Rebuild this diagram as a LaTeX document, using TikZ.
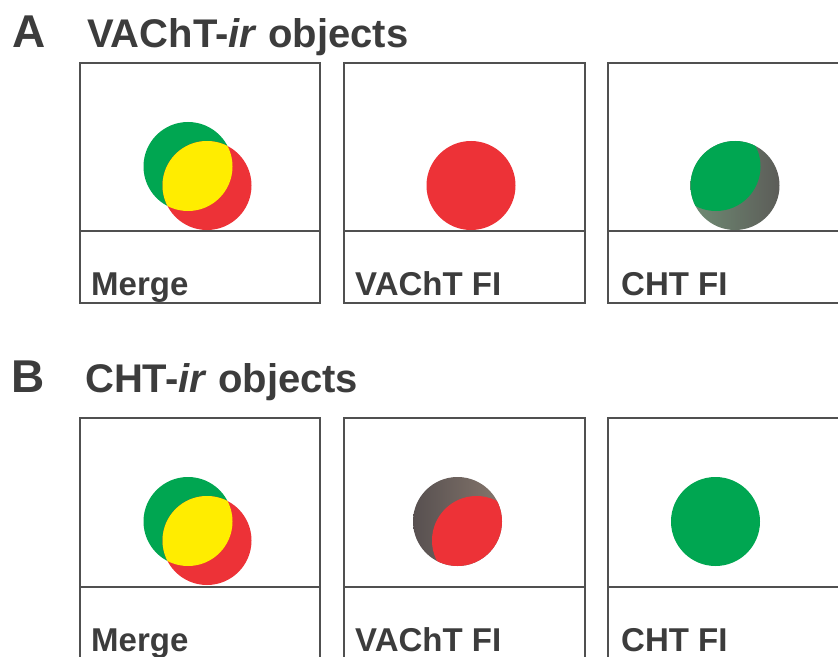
\documentclass[tikz,border=0pt]{standalone}
\usepackage{fontspec}
\setmainfont{Liberation Sans}
\definecolor{txt}{HTML}{3C3C3C}
\definecolor{frame}{HTML}{505050}
\definecolor{cgreen}{HTML}{00A651}
\definecolor{cred}{HTML}{ED3237}
\definecolor{cyellow}{HTML}{FFED00}
\definecolor{greyA}{HTML}{6F8C74}
\definecolor{greyB}{HTML}{5C5C58}
\definecolor{greyC}{HTML}{575050}
\definecolor{greyD}{HTML}{85766C}
\tikzset{
  panel/.style={draw=frame, line width=1.6bp},
  head/.style={anchor=base west, inner sep=0pt, text=txt, font=\fontsize{40bp}{48bp}\selectfont\bfseries},
  letter/.style={anchor=base west, inner sep=0pt, text=txt, font=\fontsize{46bp}{52bp}\selectfont\bfseries},
  lbl/.style={anchor=base west, inner sep=0pt, text=txt, font=\fontsize{33bp}{40bp}\selectfont\bfseries},
}
\begin{document}
\begin{tikzpicture}[x=1bp, y=-1bp]
\useasboundingbox (0,0) rectangle (838,657);
\clip (0,0) rectangle (838,657);
\fill[white] (0,0) rectangle (838,657);

% panel frames: picture area above the divider, label strip below
\foreach \T/\D/\B in {63/231/303, 418/587/660}{
  \foreach \L/\R in {80/320, 344/585, 608/848}{
    \draw[panel] (\L,\T) rectangle (\R,\B);
    \draw[panel] (\L,\D) -- (\R,\D);
  }
}

% ---- row A: VAChT-ir objects ----
% merge: green, red and their overlap in yellow
\fill[cgreen] (188,166.5) circle (44.5);
\fill[cred] (207,185.5) circle (44.5);
\begin{scope}
  \clip (188,166.5) circle (44.5);
  \fill[cyellow] (207,185.5) circle (44.5);
\end{scope}
% VAChT channel
\fill[cred] (471,185.5) circle (44.5);
% CHT channel inside the VAChT object
\shade[shading angle=135, left color=greyA, right color=greyB]
  (735,185.5) circle (44.5);
\begin{scope}
  \clip (735,185.5) circle (44.5);
  \fill[cgreen] (716,166.5) circle (44.5);
\end{scope}

% ---- row B: CHT-ir objects ----
\fill[cgreen] (188,521.5) circle (44.5);
\fill[cred] (207,540.5) circle (44.5);
\begin{scope}
  \clip (188,521.5) circle (44.5);
  \fill[cyellow] (207,540.5) circle (44.5);
\end{scope}
% VAChT channel inside the CHT object
\shade[left color=greyC, right color=greyD]
  (457.5,521.5) circle (44.5);
\begin{scope}
  \clip (457.5,521.5) circle (44.5);
  \fill[cred] (476.5,540.5) circle (44.5);
\end{scope}
% CHT channel
\fill[cgreen] (715.5,521.5) circle (44.5);

% headings
\node[letter] (la) at (12,48) {A};
\node[head] (ta) at (87,48) {VAChT-\textit{ir} objects};
\node[letter] (lb) at (11,392) {B};
\node[head] (tb) at (85,392) {CHT-\textit{ir} objects};

% panel labels
\node[lbl] (a1) at (91,295) {Merge};
\node[lbl] (a2) at (355,295) {VAChT FI};
\node[lbl] (a3) at (621,295) {CHT FI};
\node[lbl] (b1) at (91,651) {Merge};
\node[lbl] (b2) at (355,651) {VAChT FI};
\node[lbl] (b3) at (621,651) {CHT FI};
\end{tikzpicture}
\end{document}
